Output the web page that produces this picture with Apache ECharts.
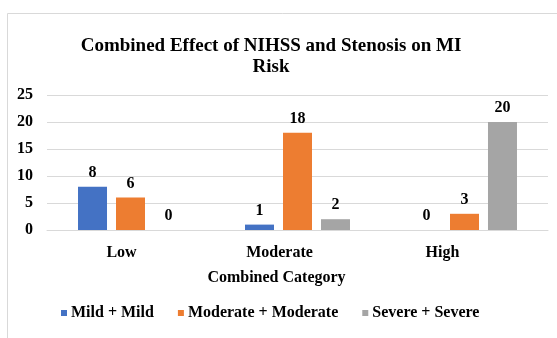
<!DOCTYPE html>
<html>
<head>
<meta charset="utf-8">
<script src="https://cdn.jsdelivr.net/npm/echarts@6/dist/echarts.min.js"></script>
<style>html,body{margin:0;padding:0;background:#fff;}#c{width:557px;height:338px;}</style>
</head>
<body>
<div id="c"></div>
<script>
const categories = ['Low', 'Moderate', 'High'];
const seriesNames = ['Mild + Mild', 'Moderate + Moderate', 'Severe + Severe'];
const mildMild = [8, 1, 0];
const moderateModerate = [6, 18, 3];
const severeSevere = [0, 2, 20];
const yTicks = [0, 5, 10, 15, 20, 25];

const FONT = '"Liberation Serif", "Times New Roman", serif';
const colors = ['#4472C4', '#ED7D31', '#A5A5A5'];
const seriesData = [mildMild, moderateModerate, severeSevere];
const FS = 16;

const chart = echarts.init(document.getElementById('c'), null, {renderer: 'canvas'});
chart.setOption({
  animation: false,
  backgroundColor: '#fff',
  graphic: [{
    type: 'rect',
    shape: {x: 7.5, y: 13.5, width: 600, height: 400},
    style: {fill: 'none', stroke: '#d9d9d9', lineWidth: 1},
    silent: true, z: -10
  }],
  title: {
    text: 'Combined Effect of NIHSS and Stenosis on MI\nRisk',
    left: 266, top: 31, textAlign: 'center',
    textStyle: {fontFamily: FONT, fontWeight: 'bold', fontSize: 19, color: '#000', lineHeight: 21}
  },
  legend: {
    data: seriesNames,
    top: 305, left: 61, padding: 0,
    itemWidth: 6, itemHeight: 6, itemGap: 24,
    icon: 'rect',
    textStyle: {fontFamily: FONT, fontWeight: 'bold', fontSize: FS, color: '#000', padding: [0, 0, 0, -1]}
  },
  grid: {left: 47, right: 9, top: 95, bottom: 108, containLabel: false},
  xAxis: {
    type: 'category',
    data: categories,
    name: 'Combined Category',
    nameLocation: 'middle',
    nameGap: 40,
    nameTextStyle: {fontFamily: FONT, fontWeight: 'bold', fontSize: FS, color: '#000', padding: [0, 42, 0, 0]},
    axisLine: {show: true, lineStyle: {color: '#d9d9d9'}},
    axisTick: {show: false},
    axisLabel: {
      fontFamily: FONT, fontWeight: 'bold', fontSize: FS, color: '#000', margin: 15,
      formatter: function (v) { return '{' + (v === 'Low' ? 'a' : v === 'Moderate' ? 'b' : 'c') + '|' + v + '}'; },
      rich: {
        a: {fontFamily: FONT, fontWeight: 'bold', fontSize: FS, color: '#000', padding: [0, 18, 0, 0]},
        b: {fontFamily: FONT, fontWeight: 'bold', fontSize: FS, color: '#000', padding: [0, 36, 0, 0]},
        c: {fontFamily: FONT, fontWeight: 'bold', fontSize: FS, color: '#000', padding: [0, 44, 0, 0]}
      }
    }
  },
  yAxis: {
    type: 'value',
    min: yTicks[0], max: yTicks[yTicks.length - 1], interval: 5,
    axisLine: {show: false},
    axisTick: {show: false},
    splitLine: {lineStyle: {color: '#d9d9d9'}},
    axisLabel: {fontFamily: FONT, fontWeight: 'bold', fontSize: FS, color: '#000', margin: 14}
  },
  series: seriesNames.map((n, i) => ({
    name: n,
    type: 'bar',
    data: seriesData[i],
    barWidth: 29,
    barGap: '31%',
    itemStyle: {color: colors[i]},
    label: {
      show: true, position: 'top', distance: 6,
      fontFamily: FONT, fontWeight: 'bold', fontSize: FS, color: '#000'
    }
  }))
});
</script>
</body>
</html>
